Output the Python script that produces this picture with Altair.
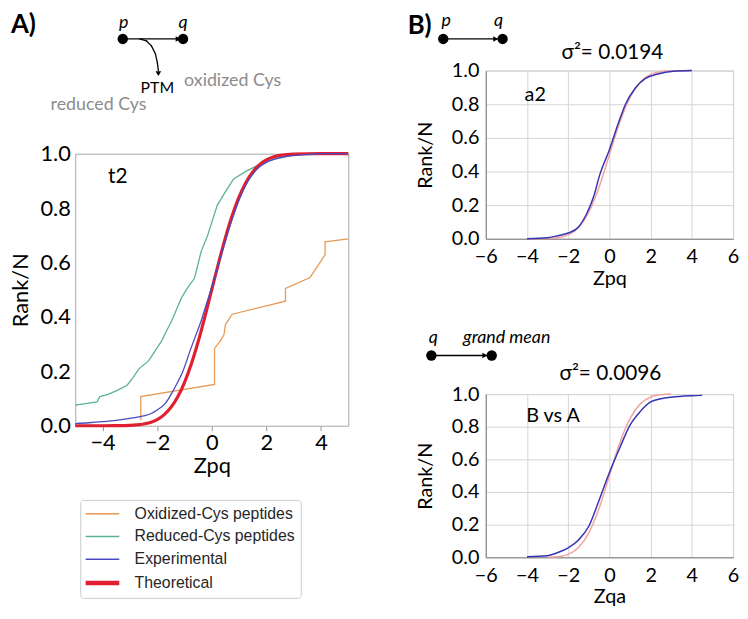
import altair as alt
import pandas as pd

# ---------------- data ----------------
series_domain = ["Oxidized-Cys peptides", "Reduced-Cys peptides", "Experimental", "Theoretical"]

# Panel A (t2)
ox_x = [-2.6, -2.6, 0.1, 0.1, 0.3, 0.45, 0.5, 0.75, 2.7, 2.7, 3.6, 4.15, 4.15, 5.0]
ox_y = [0.02, 0.107, 0.152, 0.284, 0.31, 0.335, 0.372, 0.41, 0.458, 0.505, 0.545, 0.628, 0.676, 0.687]

red_x = [-5, -4.2, -4.1, -3.8, -3.5, -3.1, -2.9, -2.66, -2.3, -2.07, -1.83, -1.65, -1.47, -1.3, -1.11,
         -0.9, -0.63, -0.39, -0.15, 0.08, 0.2, 0.56, 0.8, 1.28, 1.76, 2.0, 2.5, 3.0, 3.5, 5.0]
red_y = [0.076, 0.088, 0.107, 0.115, 0.128, 0.149, 0.175, 0.21, 0.24, 0.276, 0.313, 0.35, 0.385, 0.425, 0.47,
         0.505, 0.543, 0.64, 0.70, 0.773, 0.81, 0.87, 0.907, 0.937, 0.961, 0.972, 0.985, 0.995, 1.0, 1.0]

exp_x = [-5, -4.5, -4, -3.5, -3, -2.5, -2.2, -2, -1.7, -1.47, -1.25, -1.1, -0.75, -0.5, -0.39, -0.25, 0,
         0.25, 0.5, 0.75, 1, 1.25, 1.5, 1.75, 2, 2.5, 3, 3.5, 4, 5]
exp_y = [0.008, 0.011, 0.015, 0.020, 0.027, 0.036, 0.046, 0.058, 0.082, 0.119, 0.160, 0.19, 0.288, 0.355, 0.385,
         0.43, 0.51, 0.595, 0.68, 0.76, 0.83, 0.885, 0.925, 0.952, 0.968, 0.985, 0.993, 0.997, 1.0, 1.0]

theo_x = [-5, -4.5, -4, -3.5, -3, -2.75, -2.5, -2.25, -2, -1.75, -1.5, -1.25, -1, -0.75, -0.5, -0.25, 0,
          0.25, 0.5, 0.75, 1, 1.25, 1.5, 1.75, 2, 2.25, 2.5, 2.75, 3, 3.5, 4, 5]
theo_y = [0, 0, 0, 0.0002, 0.0013, 0.003, 0.0062, 0.0122, 0.0228, 0.0401, 0.0668, 0.1056, 0.1587, 0.2266,
          0.3085, 0.4013, 0.5, 0.5987, 0.6915, 0.7734, 0.8413, 0.8944, 0.9332, 0.9599, 0.9772, 0.9878,
          0.9938, 0.997, 0.9987, 0.9998, 1.0, 1.0]

# Panel B top (a2)
a2_exp_x = [-4, -3, -2.5, -2, -1.5, -1.1, -0.78, -0.47, 0, 0.47, 0.78, 1.25, 1.73, 2.35, 3.1, 4]
a2_exp_y = [0, 0.006, 0.018, 0.034, 0.07, 0.15, 0.245, 0.38, 0.53, 0.70, 0.80, 0.895, 0.952, 0.98, 0.996, 1.0]
a2_theo_x = [-4, -3.5, -3, -2.5, -2, -1.5, -1, -0.5, 0, 0.5, 1, 1.5, 2, 2.5, 3, 3.5, 4]
a2_theo_y = [0, 0.0002, 0.0013, 0.0062, 0.0228, 0.0668, 0.1587, 0.3085, 0.5, 0.6915, 0.8413, 0.9332,
             0.9772, 0.9938, 0.9987, 0.9998, 1.0]

# Panel B bottom (B vs A)
ba_exp_x = [-4, -3, -2.5, -2, -1.5, -1, -0.5, 0, 0.5, 1, 1.5, 2, 2.5, 3, 4, 4.5]
ba_exp_y = [0.004, 0.01, 0.029, 0.058, 0.106, 0.19, 0.35, 0.52, 0.67, 0.81, 0.894, 0.952, 0.971, 0.981, 0.99, 0.992]
ba_theo_x = [-3, -2.5, -2, -1.5, -1, -0.5, 0, 0.5, 1, 1.5, 2, 2.5, 3]
ba_theo_y = [0.0005, 0.004, 0.018, 0.06, 0.15, 0.30, 0.5, 0.70, 0.85, 0.94, 0.982, 0.996, 1.0]

# ---------------- helpers ----------------
AX_FONT = "Lato"
one = pd.DataFrame({"k": [0]})


def line_df(name, xs, ys):
    return pd.DataFrame({"series": name, "x": xs, "y": ys, "i": list(range(len(xs)))})


def txt(s, x, y, size, color="black", style="normal", weight="normal", align="center", font=AX_FONT):
    return alt.Chart(one).mark_text(
        text=s, fontSize=size, font=font, fontStyle=style, fontWeight=weight,
        color=color, align=align, baseline="middle"
    ).encode(x=alt.value(x), y=alt.value(y))


def dot(x, y):
    return alt.Chart(one).mark_point(filled=True, shape="circle", size=110, color="black",
                                     opacity=1).encode(x=alt.value(x), y=alt.value(y))


def arrow(x1, x2, y):
    r = alt.Chart(one).mark_rule(color="black", strokeWidth=1.3).encode(
        x=alt.value(x1), x2=alt.value(x2), y=alt.value(y))
    h = alt.Chart(one).mark_point(filled=True, shape="triangle-right", size=32, color="black",
                                  opacity=1).encode(x=alt.value(x2 - 2), y=alt.value(y))
    return [r, h]


def seg(x1, y1, x2, y2):
    return alt.Chart(one).mark_rule(color="black", strokeWidth=1.3, strokeCap="round").encode(
        x=alt.value(x1), y=alt.value(y1), x2=alt.value(x2), y2=alt.value(y2))


# ---------------- Panel A ----------------
colors = ["#e89a55", "#5cb392", "#4a4ac0", "#e02030"]
leg = alt.Legend(orient="none", legendX=5, legendY=434, title=None, symbolType="M-1,0H3",
                 symbolSize=289, labelFont="Liberation Sans", labelFontSize=16, labelColor="#262626",
                 labelOffset=33, labelLimit=300, strokeColor="#cccccc", cornerRadius=3, padding=6,
                 fillColor="white", rowPadding=7,
                 symbolStrokeWidth={"expr": "datum.value === 'Theoretical' ? 4.5 : 1.6"})
col_enc = alt.Color("series:N", scale=alt.Scale(domain=series_domain, range=colors), legend=leg)

xA = alt.X("x:Q", scale=alt.Scale(domain=[-5, 5], nice=False),
           axis=alt.Axis(values=[-4, -2, 0, 2, 4], title="Zpq", grid=False, domain=False, ticks=True,
                         tickSize=5, tickColor="#999999", labelFont=AX_FONT, labelFontSize=22,
                         labelColor="black", labelPadding=2, labelFlush=False, titleFont=AX_FONT,
                         titleFontSize=22, titleFontWeight="normal", titleColor="black", titlePadding=2))
yA = alt.Y("y:Q", scale=alt.Scale(domain=[0, 1], nice=False),
           axis=alt.Axis(values=[0, 0.2, 0.4, 0.6, 0.8, 1.0], format=".1f", title="Rank/N", grid=False,
                         domain=False, ticks=False, labelPadding=5, labelFlush=False, labelFont=AX_FONT,
                         labelFontSize=22, labelColor="black", titleFont=AX_FONT, titleFontSize=22,
                         titleFontWeight="normal", titleColor="black", titlePadding=8))

dfA1 = pd.concat([line_df(series_domain[0], ox_x, ox_y), line_df(series_domain[1], red_x, red_y)])
dfA2 = line_df(series_domain[2], exp_x, exp_y)
dfA3 = line_df(series_domain[3], theo_x, theo_y)

la1 = alt.Chart(dfA1).mark_line(strokeWidth=1.3).encode(x=xA, y=yA, color=col_enc, order="i:Q")
la2 = alt.Chart(dfA2).mark_line(interpolate="monotone", strokeWidth=1.3).encode(
    x=xA, y=yA, color=col_enc, order="i:Q")
la3 = alt.Chart(dfA3).mark_line(interpolate="monotone", strokeWidth=3.2).encode(
    x=xA, y=yA, color=col_enc, order="i:Q")

curve_pts = [(65, -116), (72, -114), (77, -109), (81, -101), (83, -92), (84, -84)]
curve = [seg(*curve_pts[k], *curve_pts[k + 1]) for k in range(len(curve_pts) - 1)]
curve_head = alt.Chart(one).mark_point(filled=True, shape="triangle-down", size=32, color="black",
                                       opacity=1).encode(x=alt.value(84), y=alt.value(-81))

plotA = alt.layer(
    la1, la3, la2, txt("t2", 43, 24, 21),
    txt("A)", -65, -130, 26, weight="bold", align="left"),
    txt("p", 49, -132, 18, style="italic"),
    txt("q", 109, -132, 18, style="italic"),
    *arrow(48, 106, -116),
    *curve, curve_head,
    dot(48, -116), dot(109, -116),
    txt("PTM", 83, -66, 16),
    txt("oxidized Cys", 110, -73, 18, color="#8c8c8c", align="left"),
    txt("reduced Cys", -25, -49, 18, color="#8c8c8c", align="left"),
).properties(width=276, height=275, view=alt.ViewBackground(stroke="#a6a6a6"))

spacer = alt.Chart(one).mark_text(text=" ", opacity=0).encode(
    x=alt.value(0), y=alt.value(0)).properties(width=276, height=84,
                                              view=alt.ViewBackground(strokeOpacity=0))
left_col = alt.vconcat(spacer, plotA, spacing=0, bounds="flush")

# ---------------- Panel B ----------------
colB = alt.Color("series:N", scale=alt.Scale(domain=["Theoretical", "Experimental"],
                                             range=["#f2a3a0", "#3434b4"]), legend=None)


def right_parts(df, xtitle, label, lx, ly):
    xB = alt.X("x:Q", scale=alt.Scale(domain=[-6, 6], nice=False),
               axis=alt.Axis(values=[-6, -4, -2, 0, 2, 4, 6], title=xtitle, grid=True, gridColor="#d6d6d6",
                             domain=True, domainColor="#808080", ticks=False, labelPadding=8,
                             labelFlush=False, labelFont=AX_FONT, labelFontSize=20, labelColor="black",
                             titleFont=AX_FONT, titleFontSize=20, titleFontWeight="normal",
                             titleColor="black", titlePadding=2))
    yB = alt.Y("y:Q", scale=alt.Scale(domain=[0, 1], nice=False),
               axis=alt.Axis(values=[0, 0.2, 0.4, 0.6, 0.8, 1.0], format=".1f", title="Rank/N", grid=True,
                             gridColor="#d6d6d6", domain=True, domainColor="#808080", ticks=False,
                             labelPadding=7, labelFlush=False, labelFont=AX_FONT, labelFontSize=20,
                             labelColor="black", titleFont=AX_FONT, titleFontSize=20,
                             titleFontWeight="normal", titleColor="black", titlePadding=16))
    lines = alt.Chart(df).mark_line(interpolate="monotone", strokeWidth=1.5).encode(
        x=xB, y=yB, color=colB, order="i:Q", detail="series:N")
    return lines, txt(label, lx, ly, 20)


dfT = pd.concat([line_df("Theoretical", a2_theo_x, a2_theo_y), line_df("Experimental", a2_exp_x, a2_exp_y)])
linesT, labT = right_parts(dfT, "Zpq", "a2", 50, 25)
plotT = alt.layer(
    linesT, labT,
    txt("σ²= 0.0194", 128, -18, 21),
    txt("B)", -79, -45, 26, weight="bold", align="left"),
    txt("p", -40, -50, 18, style="italic"),
    txt("q", 13, -50, 18, style="italic"),
    *arrow(-43, 12, -32), dot(-43, -32), dot(17, -32),
).properties(width=250, height=170, view=alt.ViewBackground(stroke="#c4c4c4"))

dfB = pd.concat([line_df("Theoretical", ba_theo_x, ba_theo_y), line_df("Experimental", ba_exp_x, ba_exp_y)])
linesB, labB = right_parts(dfB, "Zqa", "B vs A", 68, 22)
plotB = alt.layer(
    linesB, labB,
    txt("σ²= 0.0096", 126, -20, 21),
    txt("q", -53, -57, 18, style="italic"),
    txt("grand mean", -23, -57, 18, style="italic", align="left"),
    *arrow(-55, 1, -39), dot(-55, -39), dot(6, -39),
).properties(width=250, height=165, view=alt.ViewBackground(stroke="#c4c4c4"))

right_col = alt.vconcat(plotT, plotB, spacing=157, bounds="flush")

chart = alt.concat(left_col, right_col, columns=2, spacing=52, align="none").resolve_scale(
    color="independent"
).resolve_legend(color="independent").properties(padding=0)

chart.save("out.html", embed_options={"renderer": "svg", "actions": False})
